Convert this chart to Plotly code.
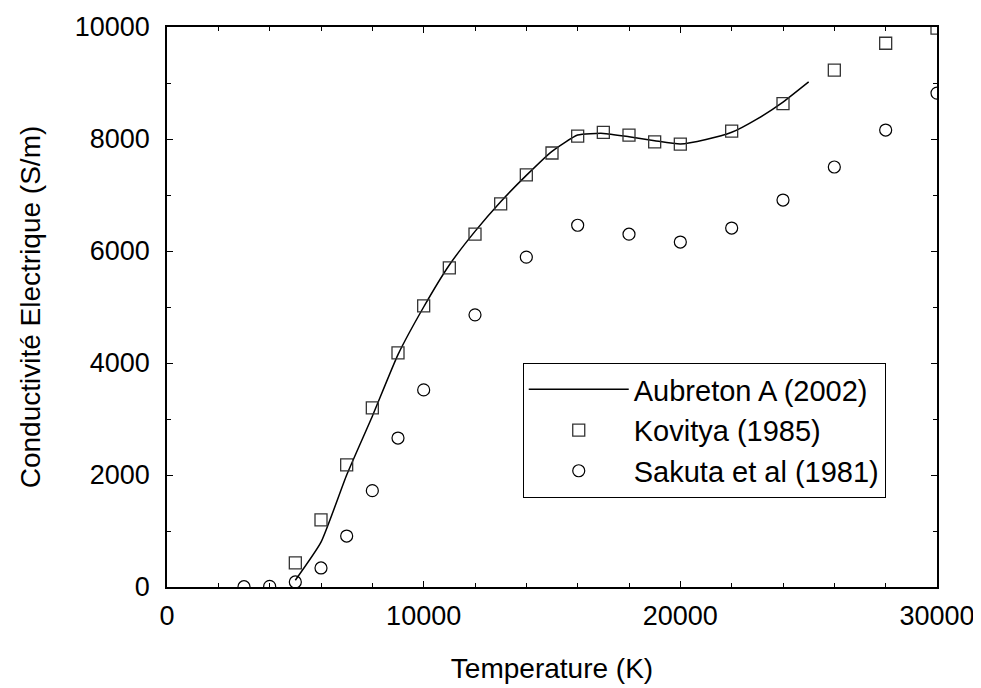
import plotly.graph_objects as go

aub_T = [5000, 6000, 7000, 8000, 9000, 10000, 11000, 12000, 13000, 14000, 15000,
         16000, 17000, 18000, 19000, 20000, 21000, 22000, 23000, 24000, 25000]
aub_S = [120, 800, 2000, 3050, 4150, 5000, 5750, 6350, 6880, 7350, 7780,
         8070, 8100, 8040, 7970, 7910, 7990, 8120, 8360, 8660, 9020]

kov_T = [5000, 6000, 7000, 8000, 9000, 10000, 11000, 12000, 13000, 14000, 15000,
         16000, 17000, 18000, 19000, 20000, 22000, 24000, 26000, 28000, 30000]
kov_S = [430, 1200, 2180, 3200, 4180, 5020, 5700, 6300, 6840, 7360, 7750,
         8050, 8120, 8070, 7950, 7910, 8140, 8630, 9230, 9710, 9980]

sak_T = [3000, 4000, 5000, 6000, 7000, 8000, 9000, 10000, 12000, 14000, 16000,
         18000, 20000, 22000, 24000, 26000, 28000, 30000]
sak_S = [5, 10, 90, 340, 910, 1720, 2660, 3520, 4860, 5890, 6460,
         6300, 6160, 6410, 6910, 7500, 8160, 8820]

x_ticks = [0, 10000, 20000, 30000]
y_ticks = [0, 2000, 4000, 6000, 8000, 10000]

fig = go.Figure()
fig.add_trace(go.Scatter(x=aub_T, y=aub_S, mode="lines", name="Aubreton A (2002)",
                         line=dict(color="black", width=1.5, shape="spline", smoothing=0.5)))
fig.add_trace(go.Scatter(x=kov_T, y=kov_S, mode="markers", name="Kovitya (1985)",
                         marker=dict(symbol="square-open", size=12, color="#333333",
                                     line=dict(width=1.3))))
fig.add_trace(go.Scatter(x=sak_T, y=sak_S, mode="markers", name="Sakuta et al (1981)",
                         marker=dict(symbol="circle-open", size=12, color="black",
                                     line=dict(width=1.2))))

font = "Liberation Sans, Arial, sans-serif"
axis_common = dict(showline=True, linecolor="black", linewidth=1.5, mirror="ticks",
                   ticks="inside", ticklen=6, tickcolor="black", showgrid=False,
                   zeroline=False, automargin=False,
                   tickfont=dict(size=27, color="black", family=font))
fig.update_xaxes(range=[0, 30000], tickvals=x_ticks, ticktext=[str(v) for v in x_ticks],
                 minor=dict(dtick=2000, ticks="inside", ticklen=4, tickcolor="black"),
                 ticklabelstandoff=4,
                 title=dict(text="Temperature (K)", font=dict(size=28, color="black", family=font),
                            standoff=28),
                 **axis_common)
fig.update_yaxes(range=[0, 10000], tickvals=y_ticks, ticktext=[str(v) for v in y_ticks],
                 minor=dict(dtick=1000, ticks="inside", ticklen=4, tickcolor="black"),
                 ticklabelstandoff=10,
                 title=dict(text="Conductivité Electrique (S/m)",
                            font=dict(size=28, color="black", family=font), standoff=26),
                 **axis_common)
fig.update_layout(
    width=981, height=688,
    margin=dict(l=159, r=52, t=19, b=109),
    plot_bgcolor="white", paper_bgcolor="white",
    font=dict(family=font, color="black"),
    legend=dict(x=0.462, y=0.4, xanchor="left", yanchor="top",
                bordercolor="black", borderwidth=1, bgcolor="white",
                font=dict(size=29, family=font, color="black"),
                itemwidth=100, tracegroupgap=0),
    showlegend=True,
)
fig.write_html("out.html")
